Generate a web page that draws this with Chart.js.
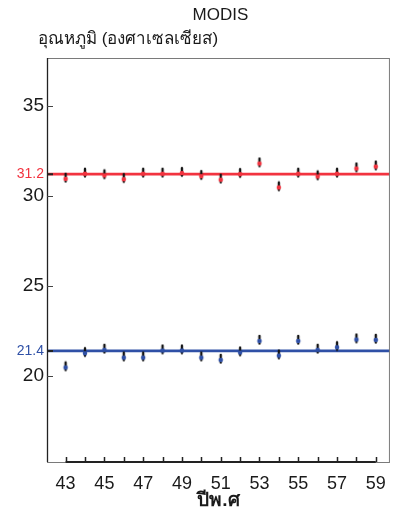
<!DOCTYPE html>
<html lang="th">
<head>
<meta charset="UTF-8">
<title>MODIS</title>
<script src="https://cdn.jsdelivr.net/npm/chart.js"></script>
<style>
  html, body { margin: 0; padding: 0; background: #fff; }
  #wrap { width: 397px; height: 512px; }
</style>
</head>
<body>
<div id="wrap"><canvas id="modisChart" width="397" height="512"></canvas></div>
<script>
// data
const years = [43, 44, 45, 46, 47, 48, 49, 50, 51, 52, 53, 54, 55, 56, 57, 58, 59];
const dayTemp = [30.94, 31.22, 31.13, 30.92, 31.22, 31.22, 31.26, 31.09, 30.89, 31.2, 31.79, 30.46, 31.22, 31.07, 31.22, 31.51, 31.62];
const nightTemp = [20.48, 21.27, 21.46, 21.03, 21.03, 21.42, 21.42, 21.03, 20.9, 21.31, 21.95, 21.14, 21.95, 21.46, 21.6, 22.03, 22.01];
const meanLines = [31.2, 21.4];
const yTicks = [20, 25, 30, 35];
const xLabels = [43, 45, 47, 49, 51, 53, 55, 57, 59];

const RED = '#f2333f';
const BLUE = '#2f50a6';
const FONT = "'Liberation Sans', Arial, 'Noto Sans', sans-serif";
const X_MIN = 42.04, X_MAX = 59.73;

// marker: black short dash with a coloured dot near its lower end
function makeMarker(color) {
    const c = document.createElement('canvas');
    c.width = 8; c.height = 14;
    const g = c.getContext('2d');
    g.strokeStyle = '#141414';
    g.lineWidth = 2.4;
    g.lineCap = 'round';
    g.beginPath();
    g.moveTo(4, 2);
    g.lineTo(4, 9.5);
    g.stroke();
    g.fillStyle = color;
    g.beginPath();
    g.arc(4, 7, 2.3, 0, Math.PI * 2);
    g.fill();
    return c;
}

const pts = vals => years.map((y, i) => ({ x: y, y: vals[i] }));
const hline = v => [{ x: X_MIN, y: v }, { x: X_MAX, y: v }];
const tickVal = c => (c && c.tick ? c.tick.value : null);

const frame = {
    id: 'frame',
    afterDraw(chart) {
        const { ctx, chartArea: a, scales } = chart;
        const xs = scales.x, ys = scales.y;
        ctx.save();
        // box
        ctx.strokeStyle = '#7a7a7a';
        ctx.lineWidth = 1;
        ctx.strokeRect(a.left + 0.5, a.top + 0.5, a.right - a.left - 1, a.bottom - a.top);
        ctx.strokeStyle = '#222';
        ctx.lineWidth = 1.3;
        ctx.beginPath();
        ctx.moveTo(a.left + 0.5, a.top);
        ctx.lineTo(a.left + 0.5, a.bottom);
        ctx.stroke();
        // bottom axis line between first and last year
        ctx.lineWidth = 2;
        ctx.beginPath();
        ctx.moveTo(xs.getPixelForValue(years[0]), a.bottom);
        ctx.lineTo(xs.getPixelForValue(years[years.length - 1]), a.bottom);
        ctx.stroke();
        // inside ticks
        ctx.lineWidth = 1.5;
        ctx.beginPath();
        years.forEach(y => {
            const px = Math.round(xs.getPixelForValue(y)) + 0.5;
            ctx.moveTo(px, a.bottom);
            ctx.lineTo(px, a.bottom - 5);
        });
        ctx.stroke();
        ctx.strokeStyle = '#444';
        ctx.lineWidth = 1;
        ctx.beginPath();
        yTicks.forEach(v => {
            const py = Math.round(ys.getPixelForValue(v)) + 0.5;
            ctx.moveTo(a.left, py);
            ctx.lineTo(a.left + 6, py);
        });
        ctx.stroke();
        ctx.strokeStyle = '#222';
        ctx.lineWidth = 2;
        ctx.beginPath();
        meanLines.forEach(v => {
            const py = ys.getPixelForValue(v);
            ctx.moveTo(a.left, py);
            ctx.lineTo(a.left + 6, py);
        });
        ctx.stroke();

        // titles
        ctx.fillStyle = '#1a1a1a';
        ctx.textBaseline = 'alphabetic';
        ctx.textAlign = 'center';
        ctx.font = '17px ' + FONT;
        ctx.fillText('MODIS', (a.left + a.right) / 2 + 2, 20);
        ctx.textAlign = 'left';
        ctx.font = '17px ' + FONT;
        ctx.fillText('อุณหภูมิ (องศาเซลเซียส)', 38, 44);
        ctx.textAlign = 'center';
        ctx.font = 'bold 19px ' + FONT;
        ctx.fillText('ปีพ.ศ', (a.left + a.right) / 2, 506);
        ctx.restore();
    }
};

new Chart(document.getElementById('modisChart'), {
    type: 'scatter',
    data: {
        datasets: [
            { label: 'mean day', type: 'line', data: hline(meanLines[0]), borderColor: RED, borderWidth: 2.6, pointRadius: 0, order: 3 },
            { label: 'mean night', type: 'line', data: hline(meanLines[1]), borderColor: BLUE, borderWidth: 2.6, pointRadius: 0, order: 3 },
            { label: 'day', data: pts(dayTemp), pointStyle: makeMarker(RED), order: 1 },
            { label: 'night', data: pts(nightTemp), pointStyle: makeMarker(BLUE), order: 1 }
        ]
    },
    options: {
        responsive: false,
        animation: false,
        layout: { padding: { top: 58, right: 5, left: 0, bottom: 0 } },
        plugins: { legend: { display: false }, tooltip: { enabled: false } },
        scales: {
            x: {
                type: 'linear',
                min: X_MIN,
                max: X_MAX,
                grid: { display: false, drawTicks: false },
                border: { display: false },
                afterBuildTicks: s => { s.ticks = xLabels.map(v => ({ value: v })); },
                afterFit: s => { s.height = 50; },
                ticks: {
                    padding: 11,
                    color: '#1a1a1a',
                    font: { family: FONT, size: 18 },
                    autoSkip: false,
                    maxRotation: 0
                }
            },
            y: {
                min: 15.24,
                max: 37.64,
                grid: { display: false, drawTicks: false },
                border: { display: false },
                afterBuildTicks: s => { s.ticks = yTicks.concat(meanLines).map(v => ({ value: v })); },
                afterFit: s => { s.width = 47; },
                ticks: {
                    padding: 3,
                    autoSkip: false,
                    callback: v => meanLines.includes(v) ? v.toFixed(1) : String(v),
                    color: c => tickVal(c) === meanLines[0] ? RED : (tickVal(c) === meanLines[1] ? BLUE : '#1a1a1a'),
                    font: c => meanLines.includes(tickVal(c)) ? { family: FONT, size: 14 } : { family: FONT, size: 19 }
                }
            }
        }
    },
    plugins: [frame]
});
</script>
</body>
</html>
